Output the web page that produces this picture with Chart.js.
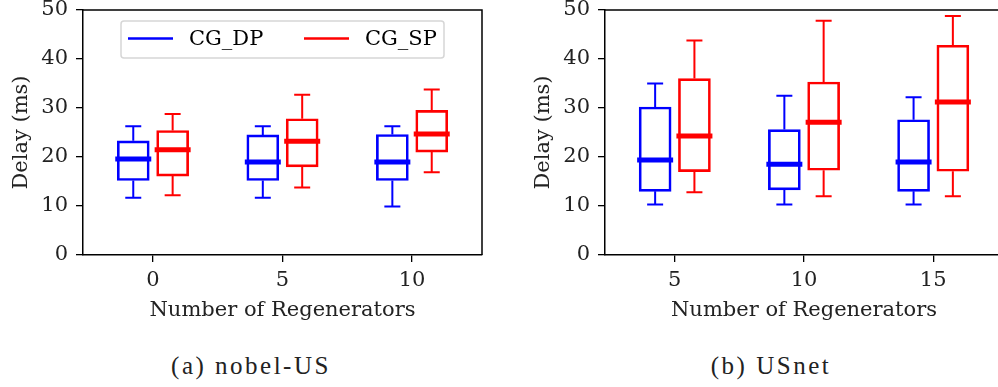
<!DOCTYPE html>
<html>
<head>
<meta charset="utf-8">
<script src="https://cdn.jsdelivr.net/npm/chart.js@4.4.0/dist/chart.umd.min.js"></script>
<style>
  html, body { margin: 0; padding: 0; background: #fff; }
  body { width: 998px; height: 387px; overflow: hidden; position: relative; }
  canvas { position: absolute; top: 0; }
  .caption { position: absolute; top: 352px; font-family: "Liberation Serif", serif; font-size: 25px; letter-spacing: 2.5px; color: #222; transform: translateX(-50%); white-space: nowrap; }
</style>
</head>
<body>
<canvas id="nobelChart" width="500" height="330" style="left:0px"></canvas>
<canvas id="usnetChart" width="490" height="330" style="left:522px"></canvas>
<div class="caption" style="left:251px">(a) nobel-US</div>
<div class="caption" style="left:771px">(b) USnet</div>
<script>
// box stats per position: [min, q1, median, q3, max]
const nobelPositions = [0, 5, 10];
const nobelDP = [[11.7, 15.2, 19.6, 23.3, 26.3], [11.7, 15.2, 19.0, 24.5, 26.3], [9.9, 15.2, 19.0, 24.6, 26.3]];
const nobelSP = [[12.2, 16.1, 21.5, 25.4, 28.8], [13.8, 18.0, 23.2, 27.8, 32.7], [16.9, 21.0, 24.7, 29.5, 33.8]];

const usnetPositions = [5, 10, 15];
const usnetDP = [[10.3, 13.0, 19.4, 30.2, 35.0], [10.3, 13.3, 18.5, 25.6, 32.5], [10.3, 13.0, 19.0, 27.6, 32.2]];
const usnetSP = [[12.8, 17.0, 24.3, 36.0, 43.8], [12.0, 17.3, 27.1, 35.3, 47.8], [12.0, 17.1, 31.2, 42.8, 48.8]];

const yTicks = [0, 10, 20, 30, 40, 50];
const seriesNames = ['CG_DP', 'CG_SP'];
const seriesColors = ['#0000ff', '#ff0000'];

const FONT = "'DejaVu Serif', serif";
const OFFSET = 0.76;   // box shift from the tick position

// whiskers, caps and medians drawn through the chart scales
const boxPlugin = {
    id: 'boxExtras',
    afterDatasetsDraw(chart) {
        const ctx = chart.ctx;
        const xs = chart.scales.x, ys = chart.scales.y;
        chart.data.datasets.forEach((ds, di) => {
            ds.stats.forEach((s, i) => {
                const px = xs.getPixelForValue(ds.data[i].x);
                ctx.save();
                ctx.strokeStyle = ds.borderColor;
                ctx.lineWidth = 2;
                ctx.beginPath();
                ctx.moveTo(px, ys.getPixelForValue(s[0]));
                ctx.lineTo(px, ys.getPixelForValue(s[1]));
                ctx.moveTo(px, ys.getPixelForValue(s[3]));
                ctx.lineTo(px, ys.getPixelForValue(s[4]));
                ctx.moveTo(px - 8, ys.getPixelForValue(s[0]));
                ctx.lineTo(px + 8, ys.getPixelForValue(s[0]));
                ctx.moveTo(px - 8, ys.getPixelForValue(s[4]));
                ctx.lineTo(px + 8, ys.getPixelForValue(s[4]));
                ctx.stroke();
                ctx.lineWidth = 5;
                ctx.beginPath();
                ctx.moveTo(px - 18, ys.getPixelForValue(s[2]));
                ctx.lineTo(px + 18, ys.getPixelForValue(s[2]));
                ctx.stroke();
                ctx.restore();
            });
        });
        // top and right frame
        const a = chart.chartArea;
        ctx.save();
        ctx.strokeStyle = '#000';
        ctx.lineWidth = 1.5;
        ctx.beginPath();
        ctx.moveTo(a.left, a.top);
        ctx.lineTo(a.right, a.top);
        ctx.lineTo(a.right, a.bottom);
        ctx.stroke();
        ctx.restore();

        if (chart.options.plugins.boxExtras.legend) {
            const lx = a.left + 38, ly = a.top + 11, lw = 323, lh = 37;
            ctx.save();
            ctx.strokeStyle = '#d6d6d6';
            ctx.lineWidth = 1.5;
            ctx.fillStyle = 'rgba(255,255,255,0.8)';
            ctx.beginPath();
            ctx.roundRect(lx, ly, lw, lh, 3);
            ctx.fill();
            ctx.stroke();
            ctx.font = '21px ' + FONT;
            ctx.textBaseline = 'middle';
            ctx.fillStyle = '#000';
            const cy = ly + lh / 2 - 1;
            const starts = [lx + 7, lx + 183];
            seriesNames.forEach((n, k) => {
                ctx.strokeStyle = seriesColors[k];
                ctx.lineWidth = 2.7;
                ctx.beginPath();
                ctx.moveTo(starts[k], cy);
                ctx.lineTo(starts[k] + 45, cy);
                ctx.stroke();
                ctx.fillText(n, starts[k] + 61, cy + 1);
            });
            ctx.restore();
        }
    }
};

function makeChart(id, positions, dp, sp, xmin, xmax, padRight, legend) {
    const sets = [dp, sp].map((stats, k) => ({
        label: seriesNames[k],
        data: positions.map((p, i) => ({ x: p + (k === 0 ? -OFFSET : OFFSET), y: [stats[i][1], stats[i][3]] })),
        stats: stats,
        backgroundColor: 'rgba(0,0,0,0)',
        borderColor: seriesColors[k],
        borderWidth: 2,
        borderSkipped: false,
        barThickness: 32,
        grouped: false
    }));
    return new Chart(document.getElementById(id), {
        type: 'bar',
        data: { datasets: sets },
        plugins: [boxPlugin],
        options: {
            responsive: false,
            animation: false,
            layout: { padding: { top: 0, right: padRight, left: 0, bottom: 0 } },
            plugins: {
                legend: { display: false },
                tooltip: { enabled: false },
                boxExtras: { legend: legend }
            },
            scales: {
                x: {
                    type: 'linear',
                    min: xmin,
                    max: xmax,
                    offset: false,
                    afterBuildTicks: s => { s.ticks = positions.map(v => ({ value: v })); },
                    afterFit: s => { s.height = 75; },
                    grid: { offset: false, drawOnChartArea: false, drawTicks: true, tickLength: 7, color: '#000', lineWidth: 1.3 },
                    border: { display: true, color: '#000', width: 1.5 },
                    ticks: { color: '#222', font: { family: FONT, size: 21 }, padding: 6, maxRotation: 0 },
                    title: { display: true, text: 'Number of Regenerators', color: '#222', font: { family: FONT, size: 21 }, padding: { top: 0, bottom: 7 } }
                },
                y: {
                    min: 0,
                    max: 50,
                    afterBuildTicks: s => { s.ticks = yTicks.map(v => ({ value: v })); },
                    afterFit: s => { s.width = 83; s.paddingTop = 10; },
                    grid: { drawOnChartArea: false, drawTicks: true, tickLength: 7, color: '#000', lineWidth: 1.3 },
                    border: { display: true, color: '#000', width: 1.5 },
                    ticks: { color: '#222', font: { family: FONT, size: 21 }, padding: 8 },
                    title: { display: true, text: 'Delay (ms)', color: '#222', font: { family: FONT, size: 21 }, padding: { top: 9, bottom: 0 } }
                }
            }
        }
    });
}

makeChart('nobelChart', nobelPositions, nobelDP, nobelSP, -2.7, 12.7, 18, true);
makeChart('usnetChart', usnetPositions, usnetDP, usnetSP, 2.3, 17.7, 9, false);
</script>
</body>
</html>
